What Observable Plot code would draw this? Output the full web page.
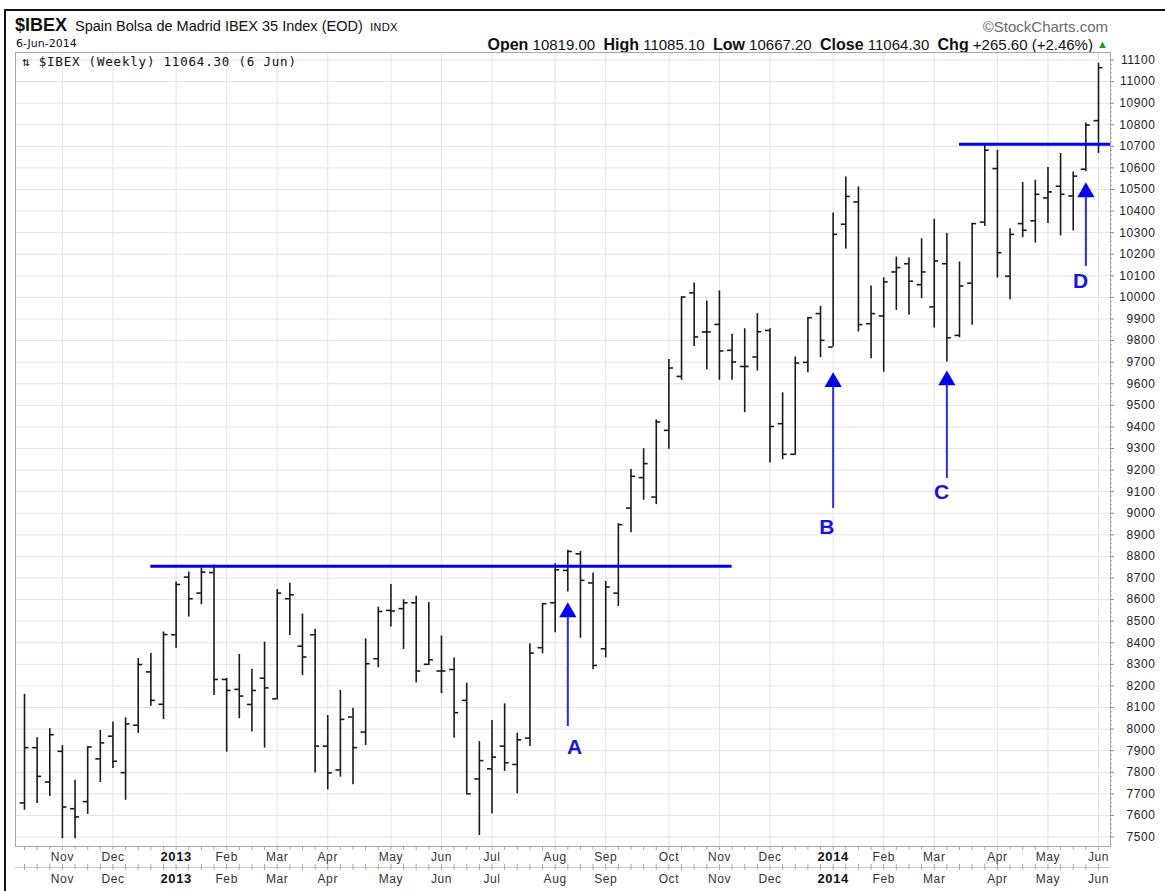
<!DOCTYPE html>
<html><head><meta charset="utf-8">
<script src="https://cdn.jsdelivr.net/npm/d3@7"></script>
<script src="https://cdn.jsdelivr.net/npm/@observablehq/plot@0.6"></script>
<style>
body{margin:0;background:#fff;}
#wrap{position:relative;width:1165px;height:891px;overflow:hidden;font-family:"Liberation Sans",Arial,sans-serif;color:#111;}
#border{position:absolute;left:4px;top:9px;width:1200px;height:1000px;border-left:2px solid #111;border-top:2px solid #111;}
.h{position:absolute;white-space:nowrap;line-height:1;}
#chart{position:absolute;left:0;top:50px;}
#chart svg text{letter-spacing:0.6px;}
</style></head>
<body>
<div id="wrap">
  <div id="border"></div>
  <div class="h" style="left:15px;top:16.3px;font-size:18px;font-weight:bold;">$IBEX</div>
  <div class="h" style="left:75px;top:19.2px;font-size:14.5px;">Spain Bolsa de Madrid IBEX 35 Index (EOD)</div>
  <div class="h" style="left:370px;top:22.2px;font-size:11px;font-family:'DejaVu Sans';">INDX</div>
  <div class="h" style="left:16px;top:38.2px;font-size:11px;font-family:'DejaVu Sans';">6-Jun-2014</div>
  <div class="h" style="right:57px;top:18.5px;font-size:15px;color:#6a6a6a;">©StockCharts.com</div>
  <div class="h" style="right:57px;top:36.5px;font-size:15px;">
    <b style="font-size:16px">Open</b> 10819.00&nbsp; <b style="font-size:16px">High</b> 11085.10&nbsp; <b style="font-size:16px">Low</b> 10667.20&nbsp; <b style="font-size:16px">Close</b> 11064.30&nbsp; <b style="font-size:16px">Chg</b> +265.60 (+2.46%) <span style="color:#1a9a1a;font-size:11px;position:relative;top:-2px;">▲</span>
  </div>
  <div id="chart"></div>
  <div class="h" style="left:22px;top:55.5px;font-size:12.5px;font-family:'DejaVu Sans Mono';letter-spacing:0.8px;">⇅ $IBEX (Weekly) 11064.30 (6 Jun)</div>
</div>
<script>
// Weekly bars (week start Monday), 15 Oct 2012 .. 2 Jun 2014
const weeks = d3.utcMonday.range(new Date(Date.UTC(2012, 9, 15)), new Date(Date.UTC(2014, 5, 3)));

const open = [7658,7914,7755,7897,7631,7664,7862,7967,7798,8018,8265,8115,8437,8704,8630,8725,8230,8184,8114,8236,
  8140,8604,8384,8437,7921,7811,8056,7986,8326,8550,8558,8585,8300,8269,8276,8133,7769,7816,7921,7836,
  7958,8377,8585,8735,8812,8677,8372,8630,9024,9165,9075,9384,9634,10021,9840,9875,9755,9680,9724,9847,
  9415,9273,9699,9925,9770,10339,10442,9878,9914,10118,10156,10059,9956,10156,9824,10066,10349,10597,10098,10342,
  10355,10461,10515,10470,10594,10819];
const high = [8161,7960,8002,7923,7763,7917,7994,8033,8052,8327,8350,8450,8681,8727,8745,8760,8235,8346,8276,8403,
  8646,8676,8533,8462,8063,8179,8097,8418,8565,8670,8599,8616,8585,8431,8329,8213,7942,8040,8117,7981,
  8395,8581,8766,8828,8823,8723,8684,8952,9203,9299,9433,9712,10002,10067,9983,10030,9829,9855,9925,9855,
  9558,9724,9906,9959,10391,10558,10512,10053,10091,10187,10183,10272,10362,10296,10164,10342,10705,10682,10318,10532,
  10543,10602,10667,10582,10808,11085.1];
const low = [7624,7655,7688,7492,7492,7605,7752,7817,7670,7980,8106,8044,8375,8519,8576,8156,7893,8048,7986,7912,
  8136,8434,8248,7797,7718,7777,7742,7924,8284,8473,8369,8214,8295,8164,7958,7700,7507,7607,7804,7700,
  7919,8349,8446,8635,8421,8275,8330,8568,8910,9060,9040,9296,9616,9773,9665,9616,9616,9466,9659,9233,
  9248,9268,9651,9721,9770,10224,9840,9716,9653,9940,9917,9994,9858,9701,9813,9871,10329,10090,9989,10277,
  10252,10342,10285,10308,10582,10667.2];
const close = [7914,7781,7974,7639,7593,7917,7936,7851,8024,8299,8133,8438,8670,8604,8727,8230,8179,8153,8179,8191,
  8630,8622,8334,7921,7797,8045,7914,8303,8545,8547,8585,8269,8321,8269,8076,7700,7854,7870,7844,7950,
  8352,8581,8738,8823,8689,8295,8658,8947,9171,9230,9423,9673,10002,9817,9840,9752,9701,9680,9841,9402,
  9273,9696,9906,9801,10292,10468,9874,9925,10072,10138,10075,10118,10169,9813,10053,10342,10682,10207,10292,10311,
  10478,10489,10478,10562,10798.7,11064.3];

const yTicks = [7500,7600,7700,7800,7900,8000,8100,8200,8300,8400,8500,8600,8700,8800,8900,9000,9100,9200,9300,
  9400,9500,9600,9700,9800,9900,10000,10100,10200,10300,10400,10500,10600,10700,10800,10900,11000,11100];
const monthLabels = ["Nov","Dec","2013","Feb","Mar","Apr","May","Jun","Jul","Aug","Sep","Oct","Nov","Dec",
  "2014","Feb","Mar","Apr","May","Jun"];

// resistance lines: value, first week, last week
const levelValues = [8755, 10710];
const levelStartWeek = [10, 74];
const levelEndWeek = [56, 85];

// arrows A-D
const arrowLabels = ["A","B","C","D"];
const arrowWeek = [43, 64, 73, 84];
const arrowTip = [8588, 9654, 9662, 10534];
const arrowTail = [8049, 9059, 9198, 10181];
const arrowLabelY = [7915, 8934, 9096, 10074];
const arrowLabelDx = [7, -6, -5, -5];

const bars = weeks.map((date, i) => ({date, open: open[i], high: high[i], low: low[i], close: close[i]}));
const monthStarts = weeks.filter((d, i) => i > 0 && d.getUTCMonth() !== weeks[i - 1].getUTCMonth());
const monthTicks = monthStarts.map((date, i) => ({date, label: monthLabels[i], year: /^\d{4}$/.test(monthLabels[i])}));
const minorTicks = d3.range(7500, 11101, 20).filter(v => v % 100 !== 0);
const arrows = arrowLabels.map((label, i) => ({label, date: weeks[arrowWeek[i]], tip: arrowTip[i], tail: arrowTail[i], ly: arrowLabelY[i]}));
const levels = levelValues.map((v, i) => ({y: v, x1: weeks[levelStartWeek[i]], x2: weeks[levelEndWeek[i]]}));

const W = 1165, H = 841, ML = 15, MR = 55, MT = 2, MB = 45;
const FW = W - ML - MR, FH = H - MT - MB;
const blue = "#0000f0", arrowBlue = "#2a2aff";
const axisFont = "Liberation Sans, Arial, sans-serif";

const chart = Plot.plot({
  width: W, height: H,
  marginTop: MT, marginBottom: MB, marginLeft: ML, marginRight: MR,
  x: {type: "utc", domain: [weeks[0], weeks[weeks.length - 1]], insetLeft: 9, insetRight: 12, axis: null},
  y: {domain: [7500, 11100], insetTop: 7.5, insetBottom: 9.5, axis: null},
  style: {background: "transparent", fontFamily: axisFont, overflow: "visible"},
  marks: [
    Plot.ruleY(yTicks, {stroke: "#e3e3e3"}),
    Plot.ruleX(monthStarts, {stroke: "#e3e3e3"}),
    Plot.frame({stroke: "#a8a8a8"}),
    // week ticks under plot and on the separator line
    Plot.ruleX(weeks, {stroke: "#aaa", insetTop: FH, insetBottom: -4}),
    Plot.ruleY([7500], {dy: 30.5, stroke: "#c8c8c8"}),
    Plot.ruleX(weeks, {stroke: "#aaa", insetTop: FH + 18, insetBottom: -24}),
    // y ticks on right
    Plot.ruleY(yTicks, {stroke: "#888", insetLeft: FW, insetRight: -4}),
    Plot.ruleY(minorTicks, {stroke: "#aaa", insetLeft: FW, insetRight: -2}),
    // OHLC bars
    Plot.ruleX(bars, {x: "date", y1: "low", y2: "high", stroke: "#1a1a1a", strokeWidth: 1.6}),
    Plot.ruleY(bars, {x1: "date", x2: "date", y: "open", stroke: "#1a1a1a", strokeWidth: 1.6, insetLeft: -4.5, insetRight: 0}),
    Plot.ruleY(bars, {x1: "date", x2: "date", y: "close", stroke: "#1a1a1a", strokeWidth: 1.6, insetLeft: 0, insetRight: -4.5}),
    // resistance lines (second one runs to the right edge of the frame)
    Plot.ruleY(levels.slice(0, 1), {x1: "x1", x2: "x2", y: "y", stroke: blue, strokeWidth: 3}),
    Plot.ruleY(levels.slice(1), {x1: "x1", x2: "x2", y: "y", stroke: blue, strokeWidth: 3, insetRight: -12}),
    // arrows
    Plot.ruleX(arrows, {x: "date", y1: "tail", y2: "tip", stroke: arrowBlue, strokeWidth: 2, dy: 8}),
    Plot.dot(arrows, {x: "date", y: "tip", symbol: "triangle", r: 6.4, fill: blue, stroke: "none", dy: 10}),
    Plot.text(arrows, {x: "date", y: "ly", text: "label", fill: "#1414e6", fontSize: 21, fontWeight: "bold"}),
    // y labels
    Plot.text(yTicks, {y: d => d, text: d => String(d), frameAnchor: "right", dx: 45, textAnchor: "end", fontSize: 12, fill: "#222"}),
    // x labels two rows
    Plot.text(monthTicks.filter(d => !d.year), {x: "date", text: "label", frameAnchor: "bottom", dy: 14, fontSize: 12, fill: "#333"}),
    Plot.text(monthTicks.filter(d => d.year), {x: "date", text: "label", frameAnchor: "bottom", dy: 14, fontSize: 13, fontWeight: "bold", fill: "#111"}),
    Plot.text(monthTicks.filter(d => !d.year), {x: "date", text: "label", frameAnchor: "bottom", dy: 36, fontSize: 12, fill: "#333"}),
    Plot.text(monthTicks.filter(d => d.year), {x: "date", text: "label", frameAnchor: "bottom", dy: 36, fontSize: 13, fontWeight: "bold", fill: "#111"})
  ]
});
// per-label horizontal offsets of A-D
d3.select(chart).selectAll("text").filter(function() { return arrowLabels.includes(this.textContent); })
  .each(function() {
    const i = arrowLabels.indexOf(this.textContent);
    const t = d3.select(this);
    const tr = t.attr("transform");
    if (tr) {
      const m = /translate\(([-\d.]+),\s*([-\d.]+)\)/.exec(tr);
      if (m) t.attr("transform", `translate(${+m[1] + arrowLabelDx[i]},${m[2]})`);
    } else {
      t.attr("x", +t.attr("x") + arrowLabelDx[i]);
    }
  });
document.getElementById("chart").appendChild(chart);
</script>
</body></html>
